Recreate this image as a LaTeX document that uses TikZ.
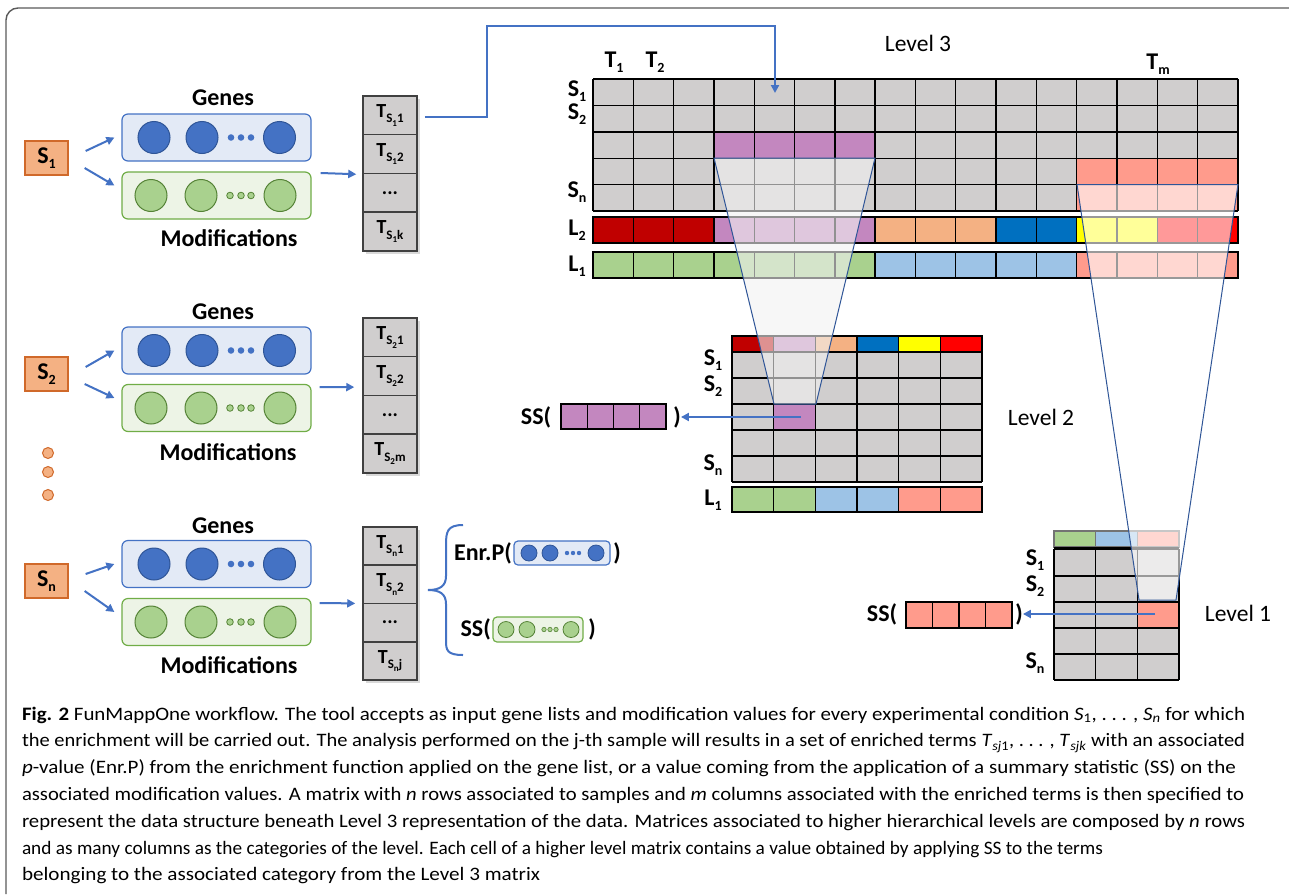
\documentclass[tikz,border=0pt]{standalone}
\usepackage{fontspec}
\setmainfont{Carlito}
\usetikzlibrary{calc,arrows.meta}
\definecolor{cgray}{HTML}{D0CECE}
\definecolor{cpurple}{HTML}{C387BF}
\definecolor{csalmon}{HTML}{FF9B8C}
\definecolor{cdred}{HTML}{C00000}
\definecolor{corange}{HTML}{F4B183}
\definecolor{cblue}{HTML}{0070C0}
\definecolor{cyellow}{HTML}{FFFF00}
\definecolor{cred}{HTML}{FF0000}
\definecolor{cgreen}{HTML}{A9D18E}
\definecolor{clblue}{HTML}{9DC3E6}
\definecolor{arrowblue}{HTML}{4472C4}
\definecolor{gboxfill}{HTML}{E3EAF6}
\definecolor{gdot}{HTML}{4472C4}
\definecolor{gdotdraw}{HTML}{2F5597}
\definecolor{mboxfill}{HTML}{EDF4E6}
\definecolor{mboxdraw}{HTML}{70AD47}
\definecolor{mdotdraw}{HTML}{548235}
\definecolor{sfill}{HTML}{F4B183}
\definecolor{sdraw}{HTML}{D0692A}
\definecolor{trapblue}{HTML}{2F5597}
\definecolor{framegray}{HTML}{5A5A5A}
\newcommand\sub[1]{\raisebox{-0.45ex}{\fontsize{14}{14}\selectfont #1}}
\newcommand\tcell[2]{T\raisebox{-0.55ex}{\fontsize{13}{13}\selectfont S\raisebox{-0.5ex}{\fontsize{9}{9}\selectfont #1}#2}}
\newsavebox\capbox
\newcommand\capline[4]{\node[anchor=base west, inner sep=0pt, outer sep=0pt] (#1) at (22,#2) {\sbox\capbox{#4}\pgfmathsetmacro\capf{#3/\the\wd\capbox}\scalebox{\capf}[1]{\usebox\capbox}};}
\newcommand\capdots{, .\ .\ . ,}
\tikzset{
  lab/.style={font=\fontsize{24}{26}\selectfont\bfseries, inner sep=0pt},
  lvl/.style={font=\fontsize{23.5}{25}\selectfont, inner sep=0pt},
  sbox/.style={draw=sdraw, fill=sfill, line width=1.3pt, minimum width=43pt, minimum height=34pt, inner sep=0pt, font=\fontsize{24}{26}\selectfont\bfseries},
  gbox/.style={draw=arrowblue, fill=gboxfill, line width=1.2pt, rounded corners=6pt, minimum width=189pt, minimum height=47pt, inner sep=0pt},
  mbox/.style={draw=mboxdraw, fill=mboxfill, line width=1.2pt, rounded corners=6pt, minimum width=189pt, minimum height=47pt, inner sep=0pt},
  tbox/.style={draw=black!75, fill=cgray, line width=1.5pt, minimum width=54pt, inner sep=0pt, font=\fontsize{20}{21}\selectfont\bfseries},
  conn/.style={draw=arrowblue, line width=2pt, -{Triangle[length=8pt,width=8pt]}},
  gl/.style={draw=black, line width=1.4pt},
  orangedot/.style={fill=sfill, draw=sdraw, line width=1pt},
}
\newcommand\genecircles[2]{% left x, center y
  \foreach \dx in {32,80,157.5} \filldraw[fill=gdot, draw=gdotdraw, line width=1pt] ({#1+\dx},#2) circle (16);
  \foreach \dx in {109,119,129} \fill[gdot] ({#1+\dx},#2) circle (3.3);}
\newcommand\modcircles[2]{%
  \foreach \dx in {29,79,158} \filldraw[fill=cgreen, draw=mdotdraw, line width=1pt] ({#1+\dx},#2) circle (16);
  \foreach \dx in {108,119,129} \filldraw[fill=cgreen, draw=mdotdraw, line width=0.8pt] ({#1+\dx},#2) circle (3.3);}
\begin{document}
\begin{tikzpicture}[x=1pt,y=-1pt]
\useasboundingbox (0,0) rectangle (1289,894);
\fill[white] (0,0) rectangle (1289,894);
% frame
\draw[framegray, line width=1.4pt, rounded corners=12pt] (6,894) -- (6,8) -- (1289,8);

% ================= sample rows =================
% --- row 1
\node[sbox] (s1) at (46.5,158) {S\sub{1}};
\node[lab] (genes1) at (223,98) {Genes};
\node[gbox] (g1) at (216.5,137.5) {};
\genecircles{122}{137.5}
\node[mbox] (m1) at (216.5,195.5) {};
\modcircles{122}{195.5}
\node[lab] (mod1) at (229,238) {Modifications};
\fill[black, opacity=0.15] (366,99) rectangle (420,254);
\node[tbox, minimum height=38.75pt] (t11) at (390,115.4) {\tcell{1}{1}};
\node[tbox, minimum height=38.75pt] (t12) at (390,154.1) {\tcell{1}{2}};
\node[tbox, minimum height=38.75pt] (t13) at (390,192.9) {...};
\node[tbox, minimum height=38.75pt] (t14) at (390,231.6) {\tcell{1}{k}};
\draw[conn] ($(s1.east)+(17,-7)$) -- ($(g1.west)+(-7,0)$);
\draw[conn] ($(s1.east)+(16,10)$) -- ($(m1.west)+(-7,-10)$);
\draw[conn] ($(m1.east)+(9,-22.5)$) -- ($(t12.south west)+(-6,0)$);

% --- row 2
\node[sbox] (s2) at (46.5,374) {S\sub{2}};
\node[lab] (genes2) at (223,312) {Genes};
\node[gbox] (g2) at (216.5,350.5) {};
\genecircles{122}{350.5}
\node[mbox] (m2) at (216.5,408) {};
\modcircles{122}{408}
\node[lab] (mod2) at (228,452) {Modifications};
\fill[black, opacity=0.15] (366,321) rectangle (420,476);
\node[tbox, minimum height=38.75pt] (t21) at (390,337.4) {\tcell{2}{1}};
\node[tbox, minimum height=38.75pt] (t22) at (390,376.1) {\tcell{2}{2}};
\node[tbox, minimum height=38.75pt] (t23) at (390,414.9) {...};
\node[tbox, minimum height=38.75pt] (t24) at (390,453.6) {\tcell{2}{m}};
\draw[conn] ($(s2.east)+(17,-7)$) -- ($(g2.west)+(-7,0)$);
\draw[conn] ($(s2.east)+(16,10)$) -- ($(m2.west)+(-7,-10)$);
\draw[conn] ($(m2.east)+(8,-21)$) -- ($(t22.west)+(-8,11)$);

% dots between
\filldraw[orangedot] (48,453) circle (5.5);
\filldraw[orangedot] (48,472) circle (5.5);
\filldraw[orangedot] (48,495) circle (5.5);

% --- row n
\node[sbox] (sn) at (46.5,581) {S\sub{n}};
\node[lab] (genesn) at (223,526) {Genes};
\node[gbox] (gn) at (216.5,564) {};
\genecircles{122}{564}
\node[mbox] (mn) at (216.5,622) {};
\modcircles{122}{622}
\node[lab] (modn) at (229,665) {Modifications};
\fill[black, opacity=0.15] (366,530) rectangle (420,683);
\node[tbox, minimum height=38.25pt] (tn1) at (390,546.1) {\tcell{n}{1}};
\node[tbox, minimum height=38.25pt] (tn2) at (390,584.4) {\tcell{n}{2}};
\node[tbox, minimum height=38.25pt] (tn3) at (390,622.6) {...};
\node[tbox, minimum height=38.25pt] (tn4) at (390,660.9) {\tcell{n}{j}};
\draw[conn] ($(sn.east)+(17,-7)$) -- ($(gn.west)+(-7,0)$);
\draw[conn] ($(sn.east)+(16,10)$) -- ($(mn.west)+(-7,-10)$);
\draw[conn] ($(mn.east)+(8,-19)$) -- ($(tn2.west)+(-7,19)$);

% brace
\draw[arrowblue, line width=2pt] (463,525) .. controls (447,525) and (446,532) .. (446,545) -- (446,576) .. controls (446,586) and (440,590) .. (428,590) .. controls (440,590) and (446,594) .. (446,604) -- (446,641) .. controls (446,650) and (447,655) .. (463,655);
\node[lab, anchor=east] (enrp) at (512,553) {Enr.P(};
\node[gbox, minimum width=96pt, minimum height=24pt, rounded corners=4pt] (enrbox) at (562,553) {};
\foreach \xx in {529,550,596} \filldraw[fill=gdot, draw=gdotdraw, line width=0.8pt] (\xx,553) circle (8);
\foreach \xx in {567,573,579} \fill[gdot] (\xx,553) circle (2.2);
\node[lab] (enrclose) at (617,553) {)};
\node[lab, anchor=east] (ssn) at (491,629) {SS(};
\node[mbox, minimum width=90pt, minimum height=25pt, rounded corners=4pt] (ssbox) at (538,629.5) {};
\foreach \xx in {506,527,571} \filldraw[fill=cgreen, draw=mdotdraw, line width=0.8pt] (\xx,629.5) circle (8);
\foreach \xx in {544,550,556} \filldraw[fill=cgreen, draw=mdotdraw, line width=0.6pt] (\xx,629.5) circle (2.2);
\node[lab] (ssnclose) at (592,629) {)};

% ================= Level 3 matrix =================
\foreach \c in {0,...,15}{\foreach \r in {0,...,4}{\fill[cgray] ({593+40.3*\c},{79+26.4*\r}) rectangle ++(40.3,26.4);}}
\foreach \c in {3,...,6}{\fill[cpurple] ({593+40.3*\c},{79+26.4*2}) rectangle ++(40.3,26.4);}
\foreach \c in {12,...,15}{\fill[csalmon] ({593+40.3*\c},{79+26.4*3}) rectangle ++(40.3,52.8);}
\foreach \c in {0,...,16}{\draw[gl] ({593+40.3*\c},79) -- ++(0,132);}
\foreach \r in {0,...,5}{\draw[gl] (593,{79+26.4*\r}) -- (1238,{79+26.4*\r});}
% L2 bar
\foreach \c/\cc in {0/cdred,1/cdred,2/cdred,3/cpurple,4/cpurple,5/cpurple,6/cpurple,7/corange,8/corange,9/corange,10/cblue,11/cblue,12/cyellow,13/cyellow,14/cred,15/cred}{
  \filldraw[fill=\cc, gl] ({593+40.3*\c},217) rectangle ++(40.3,26);}
% L1 bar
\foreach \c/\cc in {0/cgreen,1/cgreen,2/cgreen,3/cgreen,4/cgreen,5/cgreen,6/cgreen,7/clblue,8/clblue,9/clblue,10/clblue,11/clblue,12/csalmon,13/csalmon,14/csalmon,15/csalmon}{
  \filldraw[fill=\cc, gl] ({593+40.3*\c},252) rectangle ++(40.3,26);}
\node[lvl] (lev3) at (918,43) {Level 3};
\node[lab] (T1) at (614,62) {T\sub{1}};
\node[lab] (T2) at (655,62) {T\sub{2}};
\node[lab] (Tm) at (1158,64) {T\sub{m}};
\node[lab] (l3s1) at (577,91) {S\sub{1}};
\node[lab] (l3s2) at (577,114) {S\sub{2}};
\node[lab] (l3sn) at (577,192) {S\sub{n}};
\node[lab] (l3l2) at (577,230) {L\sub{2}};
\node[lab] (l3l1) at (577,266) {L\sub{1}};

% ================= Level 2 matrix =================
\foreach \c/\cc in {0/cdred,1/cpurple,2/corange,3/cblue,4/cyellow,5/cred}{
  \filldraw[fill=\cc, gl] ({732+41.67*\c},336) rectangle ++(41.67,16);}
\foreach \c in {0,...,5}{\foreach \r in {0,...,4}{\fill[cgray] ({732+41.67*\c},{352+26*\r}) rectangle ++(41.67,26);}}
\fill[cpurple] ({732+41.67},{352+52}) rectangle ++(41.67,26);
\foreach \c in {0,...,6}{\draw[gl] ({732+41.67*\c},352) -- ++(0,130);}
\foreach \r in {0,...,5}{\draw[gl] (732,{352+26*\r}) -- (982,{352+26*\r});}
\foreach \c/\cc in {0/cgreen,1/cgreen,2/clblue,3/clblue,4/csalmon,5/csalmon}{
  \filldraw[fill=\cc, gl] ({732+41.67*\c},487) rectangle ++(41.67,25);}
\node[lvl] (lev2) at (1041,417) {Level 2};
\node[lab] (l2s1) at (713,360) {S\sub{1}};
\node[lab] (l2s2) at (713,386) {S\sub{2}};
\node[lab] (l2sn) at (713,465) {S\sub{n}};
\node[lab] (l2l1) at (713,500) {L\sub{1}};
\node[lab] (ss2) at (536,417) {SS(};
\foreach \c in {0,...,3}{\filldraw[fill=cpurple, draw=black, line width=1.2pt] ({561+26.25*\c},404) rectangle ++(26.25,25);}
\node[lab] (ss2close) at (677,417) {)};
\coordinate (l2src) at (801,417);

% ================= Level 1 matrix =================
\foreach \c/\cc in {0/cgreen,1/clblue,2/csalmon}{
  \filldraw[fill=\cc, draw=black!55, line width=1.2pt] ({1054+41.67*\c},531) rectangle ++(41.67,16);}
\draw[black, line width=3pt] (1054,548.5) -- (1179,548.5);
\foreach \c in {0,...,2}{\foreach \r in {0,...,4}{\fill[cgray] ({1054+41.67*\c},{550+26*\r}) rectangle ++(41.67,26);}}
\fill[csalmon] ({1054+83.33},{550+52}) rectangle ++(41.67,26);
\foreach \c in {0,...,3}{\draw[gl] ({1054+41.67*\c},549) -- ++(0,131);}
\foreach \r in {1,...,5}{\draw[gl] (1054,{550+26*\r}) -- (1179,{550+26*\r});}
\node[lvl] (lev1) at (1238,613) {Level 1};
\node[lab] (l1s1) at (1035,560) {S\sub{1}};
\node[lab] (l1s2) at (1035,586) {S\sub{2}};
\node[lab] (l1sn) at (1035,663) {S\sub{n}};
\node[lab] (ss1) at (882,614) {SS(};
\foreach \c in {0,...,3}{\filldraw[fill=csalmon, draw=black, line width=1.2pt] ({906+26.5*\c},602) rectangle ++(26.5,26);}
\node[lab] (ss1close) at (1019,614) {)};
\coordinate (l1src) at (1155,614);

% ================= trapezoid overlays =================
\filldraw[fill=black!5, fill opacity=0.6, draw=trapblue, line width=1pt] (714,158) -- (875,158) -- (816,404) -- (774,404) -- cycle;
\filldraw[fill=white, fill opacity=0.6, draw=trapblue, line width=1pt] (1077,184.5) -- (1238,184.5) -- (1176,600) -- (1139,600) -- cycle;

% arrows from level cells
\draw[conn] (l2src) -- (ss2close.east);
\draw[conn] (l1src) -- (ss1close.east);

% connector from T_{S1,1} to Level 3
\coordinate (bend1) at (487,26);
\coordinate (l3in) at (775,93);
\draw[conn] ($(t11.east)+(7,2)$) -| (bend1) -| (l3in);

% ================= caption =================
\begin{scope}[font=\fontsize{19}{20}\selectfont]
\capline{cap1}{720}{1223}{\textbf{Fig. 2} FunMappOne workflow. The tool accepts as input gene lists and modification values for every experimental condition \textit{S}\textsubscript{1}\capdots\ \textit{S}\textsubscript{\textit{n}} for which}
\capline{cap2}{746.8}{1223}{the enrichment will be carried out. The analysis performed on the j-th sample will results in a set of enriched terms \textit{T}\textsubscript{\textit{sj}1}\capdots\ \textit{T}\textsubscript{\textit{sjk}} with an associated}
\capline{cap3}{773.6}{1214}{\textit{p}-value (Enr.P) from the enrichment function applied on the gene list, or a value coming from the application of a summary statistic (SS) on the}
\capline{cap4}{800.4}{1222}{associated modification values. A matrix with \textit{n} rows associated to samples and \textit{m} columns associated with the enriched terms is then specified to}
\capline{cap5}{827.2}{1223}{represent the data structure beneath Level 3 representation of the data. Matrices associated to higher hierarchical levels are composed by \textit{n} rows}
\capline{cap6}{854}{1081}{and as many columns as the categories of the level. Each cell of a higher level matrix contains a value obtained by applying SS to the terms}
\capline{cap7}{880.8}{518}{belonging to the associated category from the Level 3 matrix}
\end{scope}
\end{tikzpicture}
\end{document}
